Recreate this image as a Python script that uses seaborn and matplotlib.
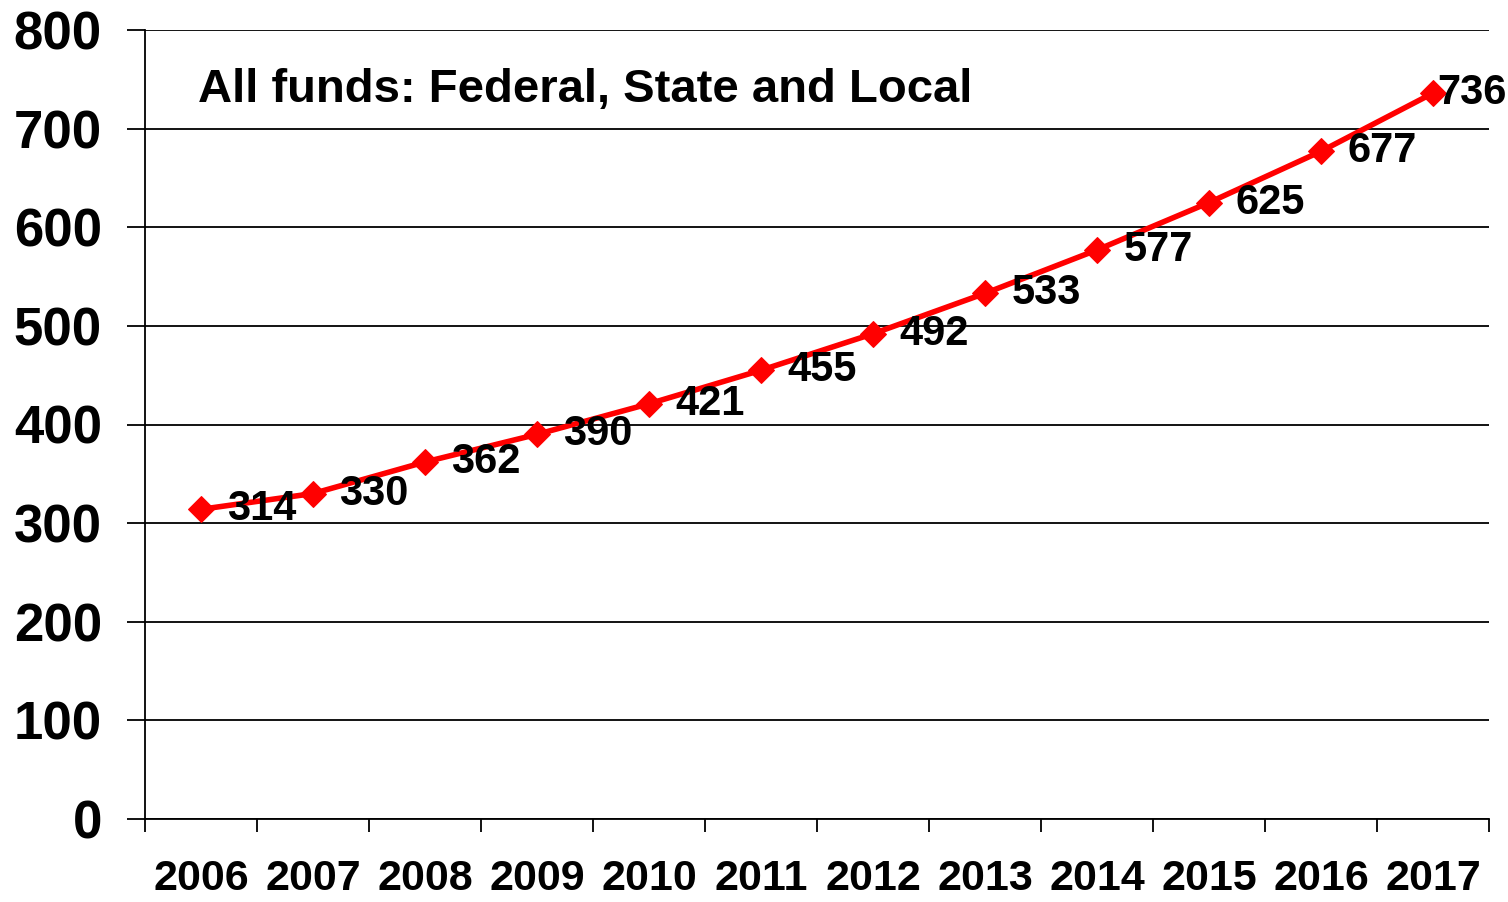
import matplotlib
matplotlib.use("Agg")
import matplotlib.pyplot as plt
from matplotlib.ticker import FixedLocator, MultipleLocator
import seaborn as sns
import pandas as pd
import numpy as np

years = ["2006", "2007", "2008", "2009", "2010", "2011",
         "2012", "2013", "2014", "2015", "2016", "2017"]
spending = [314, 330, 362, 390, 421, 455, 492, 533, 577, 625, 677, 736]
title_text = "All funds: Federal, State and Local"

sns.set_theme(style="white")
plt.rcParams["font.family"] = ["Liberation Sans", "DejaVu Sans"]
plt.rcParams["font.weight"] = "bold"

df = pd.DataFrame({"year": years, "value": spending})

fig = plt.figure(figsize=(15.08, 9.02), dpi=100)
ax = fig.add_axes([145 / 1508, 1 - 819 / 902, 1344 / 1508, 789 / 902])

sns.lineplot(data=df, x="year", y="value", ax=ax, color="#FF0000",
             linewidth=4.0, marker="D", markersize=13,
             markeredgecolor="#FF0000", markerfacecolor="#FF0000",
             zorder=3, sort=False)

ax.set_xlim(-0.5, len(years) - 0.5)
ax.set_ylim(0, 800)
ax.yaxis.set_major_locator(MultipleLocator(100))
ax.grid(axis="y", color="black", linewidth=1.3)
ax.grid(axis="x", visible=False)
ax.set_axisbelow(True)

for side in ["top", "right"]:
    ax.spines[side].set_visible(False)
for side in ["left", "bottom"]:
    ax.spines[side].set_color("black")
    ax.spines[side].set_linewidth(1.3)

ax.set_xlabel("")
ax.set_ylabel("")

# category labels sit at centres; tick marks sit on the boundaries
ax.set_xticks(range(len(years)))
ax.set_xticklabels(years)
ax.xaxis.set_minor_locator(FixedLocator(np.arange(-0.5, len(years), 1.0)))
ax.tick_params(axis="x", which="major", length=0, pad=29, labelsize=31,
               labelcolor="black")
ax.tick_params(axis="x", which="minor", length=9, width=1.3, color="black",
               direction="out", bottom=True)
ax.tick_params(axis="y", which="major", length=13, width=1.3, color="black",
               direction="out", left=True, pad=18, labelsize=38,
               labelcolor="black")
for lab in ax.get_xticklabels() + ax.get_yticklabels():
    lab.set_fontweight("bold")

# value labels to the right of each point
for i, v in enumerate(spending):
    dx = 19 if i < len(spending) - 1 else 3
    ax.annotate(str(v), (i, v), xytext=(dx, 0), textcoords="offset points",
                ha="left", va="center", fontsize=30, fontweight="bold",
                color="black", zorder=4)

ax.text(53 / 1344, (819 - 90) / 789, title_text, transform=ax.transAxes,
        ha="left", va="center", fontsize=34, fontweight="bold",
        color="black")

fig.savefig("out.png", dpi=100, facecolor="white")
